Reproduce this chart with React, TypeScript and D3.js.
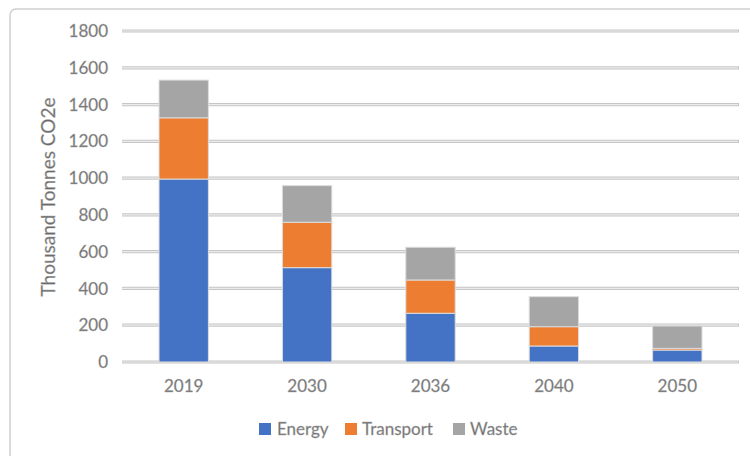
import React from "react";
import * as d3 from "d3";

const categories = ["2019", "2030", "2036", "2040", "2050"];
const energy = [995, 513, 265, 87, 65];
const transport = [333, 247, 181, 105, 9];
const waste = [205, 199, 178, 163, 122];
const seriesNames = ["Energy", "Transport", "Waste"];
const seriesColors = ["#4472C4", "#ED7D31", "#A5A5A5"];
const yTicks = [0, 200, 400, 600, 800, 1000, 1200, 1400, 1600, 1800];

const W = 750;
const H = 456;
const plot = { left: 122, right: 739, top: 31, bottom: 362 };
const font = "Lato, 'Open Sans', sans-serif";
const textColor = "#6a6a6a";

export default function App() {
  const x = d3
    .scaleBand<string>()
    .domain(categories)
    .range([plot.left, plot.right])
    .paddingInner(0.6)
    .paddingOuter(0.3);
  const y = d3.scaleLinear().domain([0, 1800]).range([plot.bottom, plot.top]);

  const rows = categories.map((c, i) => ({
    cat: c,
    Energy: energy[i],
    Transport: transport[i],
    Waste: waste[i],
  }));
  const stacked = d3.stack<any>().keys(seriesNames)(rows);

  const legendItems = [
    { name: "Energy", sx: 259, tx: 277 },
    { name: "Transport", sx: 345, tx: 362 },
    { name: "Waste", sx: 453, tx: 470 },
  ];

  return (
    <svg width={W} height={H} style={{ position: "absolute", left: 0, top: 0, background: "#fff" }}>
      <rect x={10} y={9} width={800} height={500} rx={6} fill="#fff" stroke="#cfcfcf" strokeWidth={1.5} />
      {yTicks.map((t) => (
        <g key={t}>
          <line x1={plot.left} x2={plot.right} y1={y(t)} y2={y(t)} stroke="#c6c6c6" strokeWidth={3.2} />
          <line x1={plot.left} x2={plot.right - 1} y1={y(t)} y2={y(t)} stroke="#ebebeb" strokeWidth={1.2} />
          <text
            x={108}
            y={y(t)}
            dy="0.36em"
            textAnchor="end"
            fontFamily={font}
            fontSize={17}
            fill={textColor}
            stroke="#b0b0b0"
            strokeWidth={0.4}
          >
            {t}
          </text>
        </g>
      ))}
      {stacked.map((s, si) =>
        s.map((d, i) => (
          <rect
            key={`${si}-${i}`}
            x={x(categories[i])!}
            y={y(d[1])}
            width={x.bandwidth()}
            height={Math.max(0, y(d[0]) - y(d[1]))}
            fill={seriesColors[si]}
            stroke="#dcdcdc"
            strokeWidth={1}
          />
        ))
      )}
      {categories.map((c) => (
        <text
          key={c}
          x={x(c)! + x.bandwidth() / 2}
          y={386}
          dy="0.36em"
          textAnchor="middle"
          fontFamily={font}
          fontSize={17}
          fill={textColor}
          stroke="#b0b0b0"
          strokeWidth={0.4}
        >
          {c}
        </text>
      ))}
      <text
        transform={`translate(48,197) rotate(-90)`}
        textAnchor="middle"
        dy="0.36em"
        fontFamily={font}
        fontSize={19}
        fill={textColor}
        stroke="#b0b0b0"
        strokeWidth={0.4}
      >
        Thousand Tonnes CO2e
      </text>
      {legendItems.map((l, i) => (
        <g key={l.name}>
          <rect x={l.sx} y={423} width={12} height={12} fill={seriesColors[i]} />
          <text
            x={l.tx}
            y={429}
            dy="0.36em"
            fontFamily={font}
            fontSize={17}
            fill={textColor}
            stroke="#b0b0b0"
            strokeWidth={0.4}
          >
            {l.name}
          </text>
        </g>
      ))}
    </svg>
  );
}
